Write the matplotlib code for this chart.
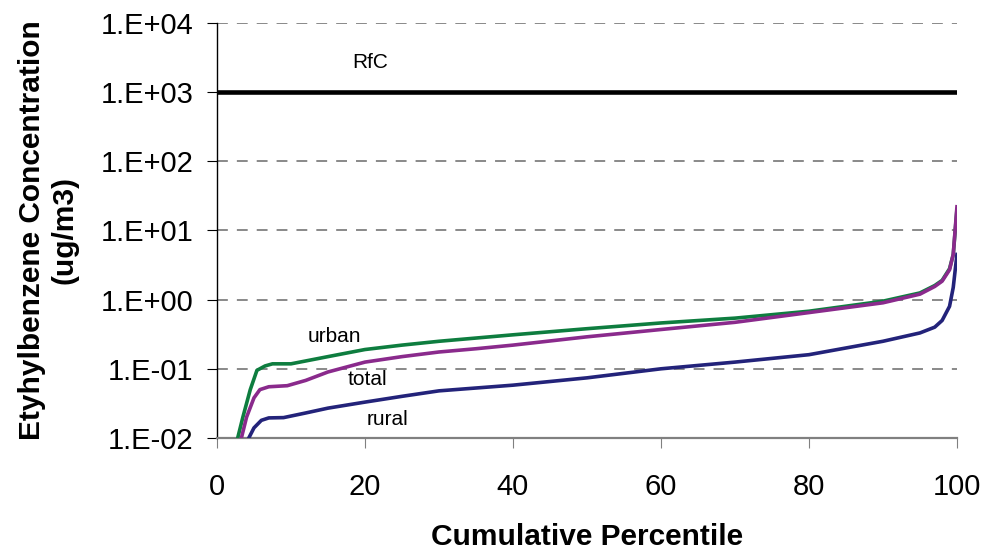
import numpy as np
import matplotlib.pyplot as plt

plt.rcParams['font.family'] = ['Liberation Sans', 'DejaVu Sans']

# Cumulative distributions of ethylbenzene concentration (ug/m3)
urban_pct = [2.8, 3.5, 4.5, 5.4, 6.5, 7.5, 10, 15, 20, 25, 30, 40, 50, 60, 70, 80, 90, 95, 97, 98, 99, 99.5, 100]
urban_val = [0.01, 0.02, 0.05, 0.095, 0.11, 0.118, 0.118, 0.15, 0.19, 0.22, 0.25, 0.31, 0.38, 0.46, 0.54,
             0.68, 0.95, 1.25, 1.6, 1.9, 2.8, 4.5, 20]

total_pct = [3.3, 4, 5, 5.8, 7, 9.5, 12, 15, 20, 25, 30, 35, 40, 50, 60, 70, 80, 90, 95, 97, 98, 99, 99.5, 100]
total_val = [0.01, 0.02, 0.038, 0.05, 0.055, 0.057, 0.068, 0.09, 0.125, 0.15, 0.175, 0.195, 0.22, 0.29,
             0.37, 0.47, 0.65, 0.9, 1.2, 1.55, 1.85, 2.7, 4.5, 22]

rural_pct = [4.3, 5, 6, 7, 9, 12, 15, 20, 25, 30, 40, 50, 60, 70, 80, 90, 95, 97, 98, 99, 99.5, 100]
rural_val = [0.01, 0.014, 0.018, 0.0195, 0.0197, 0.023, 0.027, 0.033, 0.04, 0.048, 0.058, 0.074, 0.1,
             0.125, 0.16, 0.25, 0.33, 0.4, 0.5, 0.8, 1.5, 4.5]

rfc = 1000
yticks = [1e-2, 1e-1, 1e0, 1e1, 1e2, 1e3, 1e4]
ytick_labels = ['1.E-02', '1.E-01', '1.E+00', '1.E+01', '1.E+02', '1.E+03', '1.E+04']
xticks = [0, 20, 40, 60, 80, 100]

fig = plt.figure(figsize=(9.84, 5.53), dpi=100)
ax = fig.add_axes([0.2205, 0.208, 0.752, 0.7505])

# dashed gridlines at every decade
for v in yticks[1:]:
    ax.axhline(v, color='#808080', lw=1.3, ls=(0, (6, 5)), zorder=1)

ax.plot([0, 100], [rfc, rfc], color='black', lw=3.3, zorder=3)
ax.plot(urban_pct, urban_val, color='#0e7d3f', lw=2.6, zorder=3)
ax.plot(rural_pct, rural_val, color='#23237a', lw=2.6, zorder=3)
ax.plot(total_pct, total_val, color='#8a2a8c', lw=2.6, zorder=4)

ax.set_yscale('log')
ax.set_ylim(1e-2, 1e4)
ax.set_xlim(0, 100)
ax.set_yticks(yticks)
ax.set_yticklabels(ytick_labels)
ax.minorticks_off()
ax.set_xticks(xticks)

ax.spines['top'].set_visible(False)
ax.spines['right'].set_visible(False)
ax.spines['left'].set_color('black')
ax.spines['left'].set_linewidth(1.0)
ax.spines['bottom'].set_color('#808080')
ax.spines['bottom'].set_linewidth(1.6)
ax.tick_params(axis='y', direction='out', length=7, width=0.8, labelsize=21, pad=10)
ax.tick_params(axis='x', direction='out', length=7, width=0.8, color='#808080',
               labelsize=21, pad=18)

ax.set_xlabel('Cumulative Percentile', fontsize=21.5, fontweight='bold', labelpad=16)
ax.set_ylabel('Etyhylbenzene Concentration\n(ug/m3)', fontsize=21.5, fontweight='bold',
              labelpad=16, linespacing=1.2)

ax.text(20.7, 2240, 'RfC', fontsize=15, ha='center', va='baseline')
ax.text(15.9, 0.247, 'urban', fontsize=15, ha='center', va='baseline')
ax.text(20.3, 0.059, 'total', fontsize=15, ha='center', va='baseline')
ax.text(23.1, 0.0156, 'rural', fontsize=15, ha='center', va='baseline')

fig.savefig('out.png', dpi=100)
